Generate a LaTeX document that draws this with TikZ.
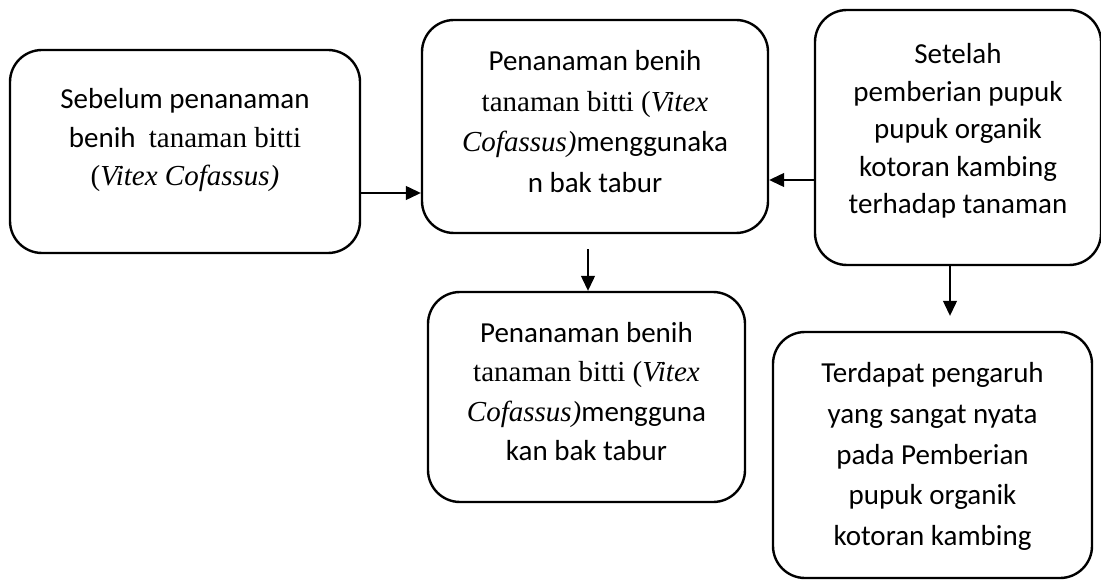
\documentclass[tikz,border=0pt]{standalone}
\usepackage{fontspec}
\setmainfont{Carlito}
\newfontfamily\tnr{Liberation Serif}
\usetikzlibrary{arrows.meta}

\begin{document}
\begin{tikzpicture}[x=1pt, y=-1pt,
    stage/.style={draw, line width=2.4pt, rounded corners=32pt, align=center,
        inner sep=0pt, font=\fontsize{29}{#1}\selectfont},
    stage/.default=38,
    flow/.style={line width=1.2pt, -{Triangle[length=15pt,width=14pt]}}]
    \useasboundingbox (0,0) rectangle (1101,580);

    % Stages of the experiment
    \node[stage=38.5, text depth=29pt, minimum width=350pt, minimum height=203pt] (before) at (185,151.5)
        {Sebelum penanaman\\ benih\ \ {\tnr tanaman bitti}\\ {\tnr (\textit{Vitex Cofassus)}}};
    \node[stage=40.7, text depth=10pt, minimum width=346pt, minimum height=213pt] (sowing) at (595,126.5)
        {Penanaman benih\\ {\tnr tanaman bitti (\textit{Vitex}}\\ {\tnr\itshape Cofassus)}menggunaka\\ n bak tabur};
    \node[stage=37.5, text depth=18pt, minimum width=286pt, minimum height=255pt] (after) at (958,137.5)
        {Setelah\\ pemberian pupuk\\ pupuk organik\\ kotoran kambing\\ terhadap tanaman};
    \node[stage=39.3, text depth=11pt, minimum width=317pt, minimum height=210pt] (result) at (586.5,397)
        {Penanaman benih\\ {\tnr tanaman bitti (\textit{Vitex}}\\ {\tnr\itshape Cofassus)}mengguna\\ kan bak tabur};
    \node[stage=40.7, text depth=2pt, minimum width=319pt, minimum height=246pt] (effect) at (932.5,455)
        {Terdapat pengaruh\\ yang sangat nyata\\ pada Pemberian\\ pupuk organik\\ kotoran kambing};

    % Arrows
    \draw[flow] ([yshift=-41.5pt]before.east) -- ([yshift=-41.5pt]before.east -| sowing.west);
    \draw[flow] ([yshift=-42.5pt]after.west) -- ([yshift=-42.5pt]after.west -| sowing.east);
    \draw[flow, shorten <=15pt] ([xshift=1.5pt]result.north |- sowing.south) -- ([xshift=1.5pt]result.north);
    \draw[flow, shorten >=15pt] ([xshift=-8pt]after.south) -- ([xshift=-8pt]after.south |- effect.north);
\end{tikzpicture}
\end{document}
